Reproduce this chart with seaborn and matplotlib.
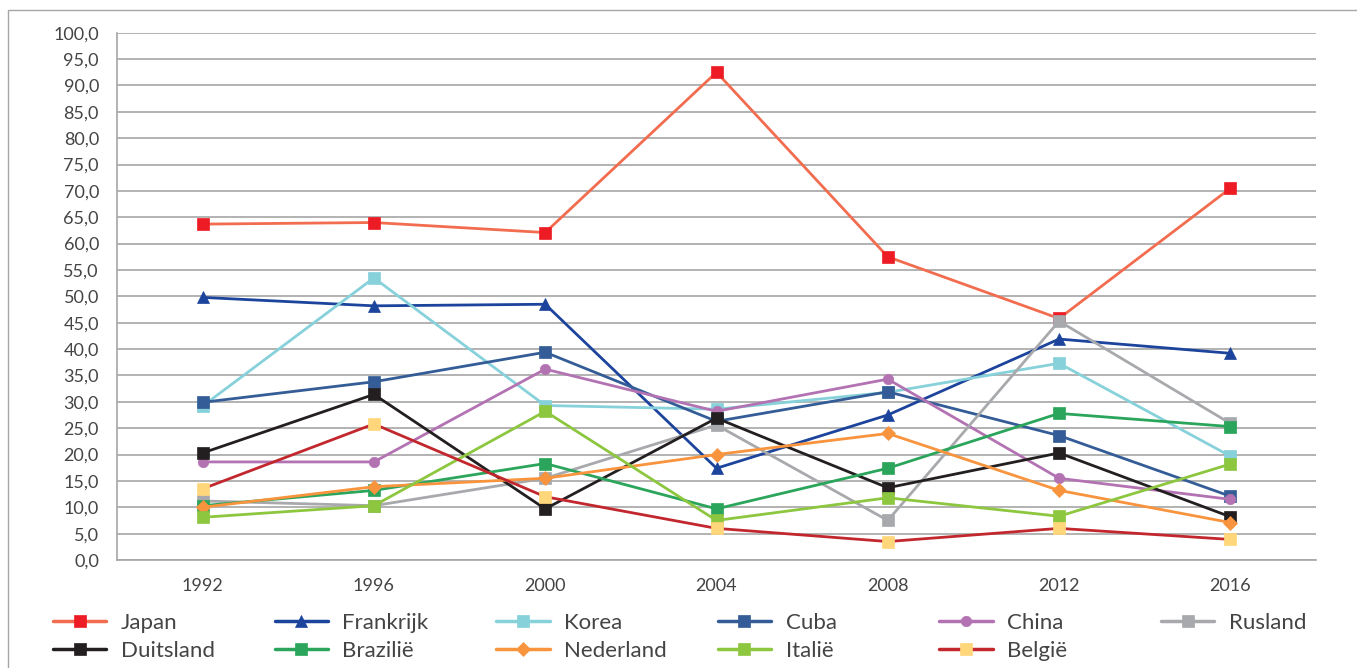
import matplotlib
matplotlib.use('Agg')
import matplotlib.pyplot as plt
from matplotlib.lines import Line2D
from matplotlib.patches import Rectangle
import seaborn as sns

# --- data ---
years = ['1992', '1996', '2000', '2004', '2008', '2012', '2016']
japan = [63.7, 64.0, 62.1, 92.5, 57.5, 45.8, 70.5]
frankrijk = [49.8, 48.2, 48.5, 17.4, 27.5, 41.9, 39.2]
korea = [29.2, 53.5, 29.3, 28.6, 31.8, 37.3, 19.7]
cuba = [29.9, 33.8, 39.4, 26.3, 31.9, 23.6, 12.1]
china = [18.6, 18.6, 36.2, 28.2, 34.3, 15.5, 11.5]
rusland = [11.2, 10.3, 15.5, 25.6, 7.5, 45.3, 25.9]
duitsland = [20.3, 31.4, 9.7, 26.9, 13.7, 20.3, 8.2]
brazilie = [10.3, 13.2, 18.3, 9.7, 17.4, 27.8, 25.3]
nederland = [10.0, 13.9, 15.5, 20.0, 24.0, 13.2, 7.1]
italie = [8.1, 10.3, 28.2, 7.5, 11.8, 8.3, 18.2]
belgie = [13.5, 25.8, 12.0, 6.0, 3.5, 6.0, 3.9]

# name, values, line colour, marker, marker colour
series = [
    ('Japan', japan, '#F26C4F', 's', '#ED1C24'),
    ('Frankrijk', frankrijk, '#1C449C', '^', '#1C449C'),
    ('Korea', korea, '#86D1DA', 's', '#86D1DA'),
    ('Cuba', cuba, '#345C96', 's', '#345C96'),
    ('China', china, '#B373B3', 'o', '#B373B3'),
    ('Rusland', rusland, '#A7A9AC', 's', '#A7A9AC'),
    ('Duitsland', duitsland, '#231F20', 's', '#231F20'),
    ('Brazilië', brazilie, '#2BA55B', 's', '#2BA55B'),
    ('Nederland', nederland, '#F7943D', 'D', '#F7943D'),
    ('Italië', italie, '#8DC63F', 's', '#8DC63F'),
    ('België', belgie, '#C1272D', 's', '#FFD67A'),
]
msize = {'s': 8, '^': 8.5, 'o': 7.5, 'D': 7}

sns.set_style("white")
plt.rcParams['font.family'] = ['Lato', 'DejaVu Sans']
text_col = '#444444'
grid_col = '#A6A6A6'

fig = plt.figure(figsize=(13.57, 6.68), dpi=100)
ax = fig.add_axes([117 / 1357, 1 - 560 / 668, (1316 - 117) / 1357, (560 - 32.7) / 668])

xpos = list(range(len(years)))
handles = {}
for name, vals, lc, mk, mc in series:
    sns.lineplot(x=xpos, y=vals, ax=ax, color=lc, linewidth=2.0, marker=mk,
                 markersize=msize[mk], markerfacecolor=mc, markeredgecolor=mc,
                 markeredgewidth=0.5, legend=False)
    handles[name] = Line2D([], [], color=lc, linewidth=2.5, marker=mk,
                           markersize=msize[mk], markerfacecolor=mc,
                           markeredgecolor=mc, markeredgewidth=0.5)

ax.set_xlim(-0.5, len(years) - 0.5)
ax.set_ylim(0, 100)
ax.set_yticks([i * 5 for i in range(21)])
ax.set_yticklabels([f"{i * 5:.1f}".replace('.', ',') for i in range(21)])
ax.set_xticks(xpos)
ax.set_xticklabels(years)
ax.set_xticks([i - 0.5 for i in range(len(years) + 1)], minor=True)
ax.tick_params(axis='x', which='major', length=0, pad=13, labelsize=13, labelcolor=text_col)
ax.tick_params(axis='x', which='minor', length=8, width=1.2, color=grid_col, direction='out')
ax.tick_params(axis='y', length=9, width=1.2, color=grid_col, pad=4, labelsize=13, labelcolor=text_col)
ax.set_xlabel('')
ax.set_ylabel('')

ax.yaxis.grid(True, color=grid_col, linewidth=1.2)
ax.xaxis.grid(False)
ax.set_axisbelow(True)
for side in ['top', 'right']:
    ax.spines[side].set_visible(False)
ax.spines['left'].set_color(grid_col)
ax.spines['left'].set_linewidth(1.2)
ax.spines['bottom'].set_color(grid_col)
ax.spines['bottom'].set_linewidth(1.2)

# legend: six evenly spaced columns, two rows
columns = [['Japan', 'Duitsland'], ['Frankrijk', 'Brazilië'], ['Korea', 'Nederland'],
           ['Cuba', 'Italië'], ['China', 'België'], ['Rusland']]
for i, col in enumerate(columns):
    fig.legend([handles[n] for n in col], col, loc='upper left',
               bbox_to_anchor=((53 + i * 221.6) / 1357, 1 - 613 / 668),
               frameon=False, fontsize=16, labelcolor=text_col, handlelength=2.4,
               handletextpad=0.65, borderpad=0, borderaxespad=0, labelspacing=0.37)

# outer chart frame (only top and left visible)
fig.add_artist(Rectangle((8 / 1357, -0.2), 1.2, 1.2 - 10 / 668, transform=fig.transFigure,
                         fill=False, edgecolor='#A6A6A6', linewidth=1.0))

fig.savefig('out.png', dpi=100)
